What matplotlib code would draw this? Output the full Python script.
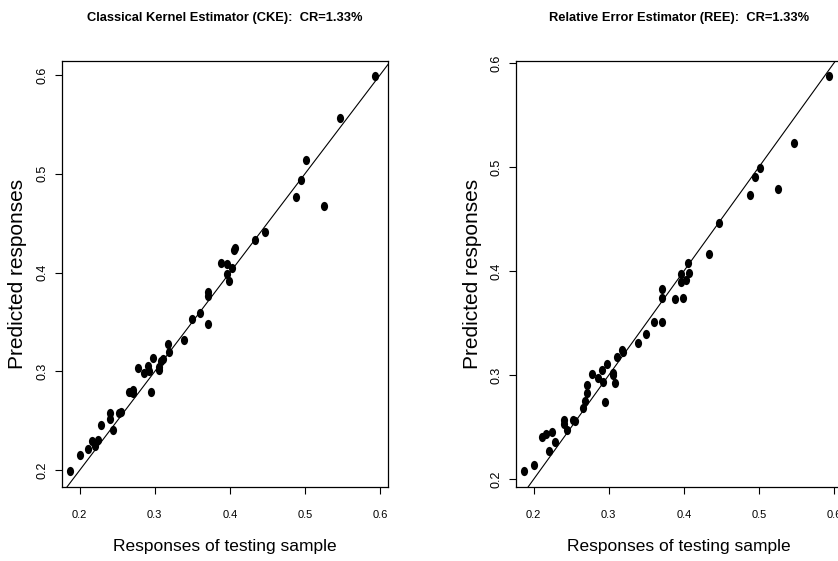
import matplotlib
matplotlib.use("Agg")
import matplotlib.pyplot as plt
from matplotlib.markers import MarkerStyle
from matplotlib.transforms import Affine2D

# Observed responses of the testing sample (shared by both panels)
x_obs = [0.187, 0.200, 0.2115, 0.216, 0.221, 0.224, 0.229, 0.241, 0.241, 0.245,
         0.253, 0.255, 0.265, 0.268, 0.2715, 0.2715, 0.278, 0.286, 0.2905, 0.2925,
         0.2945, 0.297, 0.305, 0.306, 0.308, 0.3105, 0.317, 0.319, 0.339, 0.350,
         0.360, 0.3705, 0.3715, 0.3715, 0.388, 0.396, 0.3965, 0.399, 0.4035, 0.406,
         0.407, 0.433, 0.447, 0.488, 0.495, 0.5015, 0.526, 0.5465, 0.594]

# Predicted responses, classical kernel estimator
y_cke = [0.199, 0.215, 0.221, 0.230, 0.224, 0.231, 0.2456, 0.2574, 0.2516, 0.2405,
         0.2574, 0.259, 0.279, 0.279, 0.281, 0.2777, 0.3036, 0.298, 0.3056, 0.300,
         0.279, 0.314, 0.301, 0.3046, 0.311, 0.313, 0.3273, 0.320, 0.3316, 0.3526,
         0.3587, 0.3475, 0.3765, 0.3806, 0.4093, 0.4086, 0.3985, 0.3917, 0.4049, 0.4228,
         0.4245, 0.4329, 0.4407, 0.4768, 0.4934, 0.5139, 0.467, 0.5561, 0.599]

# Predicted responses, relative error estimator
y_ree = [0.2077, 0.2141, 0.2407, 0.2433, 0.2269, 0.2455, 0.2359, 0.2567, 0.2535, 0.2471,
         0.2567, 0.2558, 0.268, 0.2753, 0.283, 0.2904, 0.301, 0.2968, 0.3048, 0.293,
         0.2744, 0.3103, 0.3016, 0.300, 0.292, 0.3176, 0.324, 0.3218, 0.3305, 0.340,
         0.3507, 0.3507, 0.3744, 0.3824, 0.3728, 0.3968, 0.3897, 0.3737, 0.3913, 0.408,
         0.3978, 0.416, 0.4459, 0.4728, 0.490, 0.499, 0.4792, 0.5228, 0.5875]

titles = ["Classical Kernel Estimator (CKE):  CR=1.33%",
          "Relative Error Estimator (REE):  CR=1.33%"]
ticks = [0.2, 0.3, 0.4, 0.5, 0.6]

font = ["Liberation Sans", "DejaVu Sans"]

W, H = 838, 561
fig = plt.figure(figsize=(W / 100, H / 100), dpi=100)

# pixel boxes (left, top, right, bottom) and axis limits for each panel
panels = [
    dict(box=(62, 60.7, 388, 487), xlim=(0.1764, 0.6107), ylim=(0.183, 0.6145), y=y_cke),
    dict(box=(516, 60.7, 842, 487), xlim=(0.1764, 0.6107), ylim=(0.1925, 0.6022), y=y_ree),
]

# the reference is squeezed sideways, so dots are slightly taller than wide
dot = MarkerStyle("o", transform=Affine2D().scale(0.78, 1.0))

for p, title in zip(panels, titles):
    l, t, r, b = p["box"]
    ax = fig.add_axes([l / W, 1 - b / H, (r - l) / W, (b - t) / H])
    ax.scatter(x_obs, p["y"], marker=dot, s=44, color="black", linewidths=0, zorder=3)
    ax.axline((0, 0), slope=1, color="black", lw=0.8)
    ax.set_xlim(*p["xlim"])
    ax.set_ylim(*p["ylim"])
    ax.set_xticks(ticks)
    ax.set_yticks(ticks)
    ax.set_xticklabels([str(v) for v in ticks], family=font, fontsize=8)
    ax.set_yticklabels([str(v) for v in ticks], family=font, fontsize=9,
                       rotation=90, va="center")
    ax.tick_params(axis="x", direction="out", length=5, width=0.8, pad=11.5)
    ax.tick_params(axis="y", direction="out", length=5, width=0.8, pad=4.5)
    for s in ax.spines.values():
        s.set_linewidth(0.9)

    cx = (l + r) / 2
    fig.text(cx / W, 1 - 17.5 / H, title, ha="center", va="center",
             family=font, fontweight="bold", fontsize=9.3)
    fig.text(cx / W, 1 - 547 / H, "Responses of testing sample", ha="center",
             va="center", family=font, fontsize=12.5)
    fig.text((l - 44) / W, 1 - ((t + b) / 2) / H, "Predicted responses", ha="center",
             va="center", rotation=90, family=font, fontsize=15)

fig.savefig("out.png", dpi=100)
